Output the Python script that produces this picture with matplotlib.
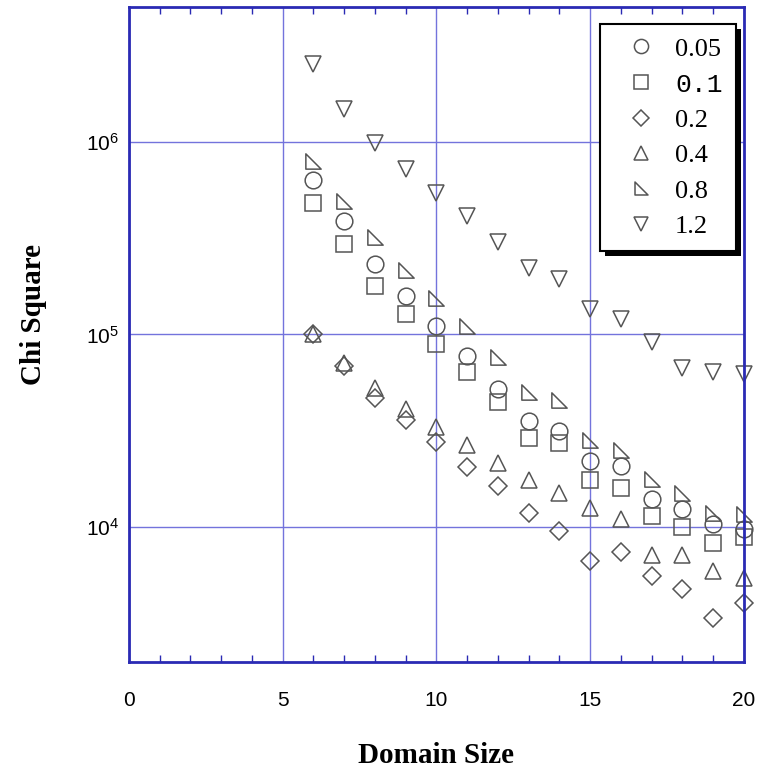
import matplotlib.pyplot as plt
from matplotlib.path import Path
from matplotlib.patches import Rectangle
from matplotlib.transforms import IdentityTransform
from matplotlib.ticker import FixedLocator, MultipleLocator, NullLocator

# domain sizes
sizes = [6, 7, 8, 9, 10, 11, 12, 13, 14, 15, 16, 17, 18, 19, 20]

# chi square values, one list per setting
chi_005 = [6.3e5, 3.87e5, 2.32e5, 1.58e5, 1.10e5, 7.7e4, 5.2e4, 3.56e4, 3.15e4,
           2.21e4, 2.08e4, 1.40e4, 1.24e4, 1.04e4, 9.8e3]
chi_01 = [4.81e5, 2.96e5, 1.78e5, 1.28e5, 8.9e4, 6.4e4, 4.47e4, 2.92e4, 2.75e4,
          1.75e4, 1.59e4, 1.14e4, 9.98e3, 8.3e3, 8.85e3]
chi_02 = [1.0e5, 6.9e4, 4.7e4, 3.6e4, 2.78e4, 2.06e4, 1.64e4, 1.19e4, 9.6e3,
          6.7e3, 7.4e3, 5.6e3, 4.8e3, 3.37e3, 4.03e3]
chi_04 = [1.0e5, 7.1e4, 5.25e4, 4.12e4, 3.31e4, 2.67e4, 2.16e4, 1.75e4, 1.51e4,
          1.26e4, 1.11e4, 7.2e3, 7.2e3, 5.9e3, 5.45e3]
chi_08 = [7.9e5, 4.9e5, 3.19e5, 2.15e5, 1.55e5, 1.10e5, 7.6e4, 5.05e4, 4.57e4,
          2.83e4, 2.53e4, 1.79e4, 1.51e4, 1.18e4, 1.17e4]
chi_12 = [2.54e6, 1.48e6, 9.9e5, 7.2e5, 5.4e5, 4.1e5, 3.0e5, 2.2e5, 1.93e5,
          1.36e5, 1.21e5, 9.1e4, 6.7e4, 6.4e4, 6.2e4]

labels = ["0.05", "0.1", "0.2", "0.4", "0.8", "1.2"]

# right angled triangle marker
right_tri = Path([(-1, -1), (-1, 1), (1, -1), (-1, -1)],
                 [Path.MOVETO, Path.LINETO, Path.LINETO, Path.CLOSEPOLY])

series = [chi_005, chi_01, chi_02, chi_04, chi_08, chi_12]
markers = ['o', 's', 'D', '^', right_tri, 'v']
msizes = [12, 12, 9, 12, 11, 12]

fig = plt.figure(figsize=(7.63, 7.73), dpi=100)
ax = fig.add_axes([0.169, 0.1436, 0.806, 0.8474])

for vals, m, ms, lab in zip(series, markers, msizes, labels):
    ax.plot(sizes, vals, linestyle='none', marker=m, markersize=ms,
            markerfacecolor='none', markeredgecolor='#555555',
            markeredgewidth=1.1, label=lab, clip_on=False)

ax.set_yscale('log')
ax.set_xlim(0, 20)
ax.set_ylim(2000, 5e6)

ax.xaxis.set_major_locator(MultipleLocator(5))
ax.xaxis.set_minor_locator(MultipleLocator(1))
ax.yaxis.set_major_locator(FixedLocator([1e4, 1e5, 1e6]))
ax.yaxis.set_minor_locator(NullLocator())
ax.set_yticklabels([r'$\mathregular{10^4}$', r'$\mathregular{10^5}$',
                    r'$\mathregular{10^6}$'])

ax.grid(True, which='major', color='#7373dc', linewidth=1.0)
for s in ax.spines.values():
    s.set_color('#2a2ab4')
    s.set_linewidth(2)

ax.tick_params(which='both', direction='in', colors='#2a2ab4', top=True)
ax.tick_params(which='major', length=0, labelsize=15, labelcolor='black')
ax.tick_params(axis='x', which='major', pad=21)
ax.tick_params(axis='y', which='major', pad=7)
ax.tick_params(which='minor', length=5, width=1)
for t in ax.get_xticklabels() + ax.get_yticklabels():
    t.set_fontfamily('Liberation Sans')

xl = ax.set_xlabel("Domain Size", fontsize=21, fontweight='bold',
                   fontfamily='Liberation Serif')
yl = ax.set_ylabel("Chi Square", fontsize=21, fontweight='bold',
                   fontfamily='Liberation Serif')
ax.xaxis.set_label_coords(0.5, -0.142)
xl.set_va('center')
ax.yaxis.set_label_coords(-0.155, 0.53)
yl.set_va('center')

leg = ax.legend(loc='upper right', bbox_to_anchor=(0.9646, 0.969),
                bbox_transform=fig.transFigure, fancybox=False, shadow=False,
                prop={'family': 'Liberation Serif', 'size': 19},
                labelspacing=0.45, handletextpad=0.25, borderpad=0.5,
                handlelength=2.1, borderaxespad=0, markerscale=0.85)
leg.get_frame().set_edgecolor('black')
leg.get_frame().set_linewidth(1.5)
leg.get_frame().set_alpha(1)
leg.get_texts()[1].set_fontfamily('Liberation Mono')

# heavy black drop shadow behind the legend box
fig.canvas.draw()
bb = leg.get_window_extent()
ax.add_patch(Rectangle((bb.x0 + 5, bb.y0 - 5), bb.width, bb.height,
                       transform=IdentityTransform(), facecolor='black',
                       edgecolor='none', zorder=4.9, clip_on=False))

fig.savefig("out.png", dpi=100)
